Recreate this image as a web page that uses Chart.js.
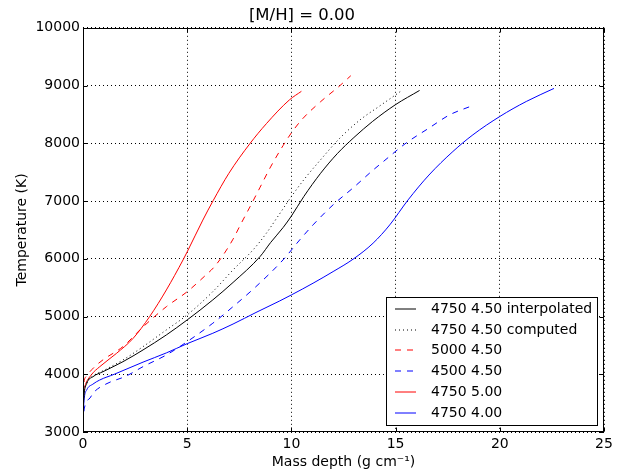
<!DOCTYPE html>
<html>
<head>
<meta charset="utf-8">
<script src="https://cdn.jsdelivr.net/npm/chart.js@4.4.1/dist/chart.umd.min.js"></script>
<style>
  html, body { margin: 0; padding: 0; background: #fff; }
  #wrap { width: 634px; height: 472px; position: relative; }
</style>
</head>
<body>
<div id="wrap"><canvas id="chart"></canvas></div>
<script>
// values
const interpX = [0, 0.04, 0.18, 0.48, 0.96, 1.92, 2.88, 4.0, 5.0, 6.23, 7.2, 8.5, 9.0, 9.6, 10.0, 10.6, 11.4, 12.2, 13.0, 13.9, 15.0, 16.15];
const interpT = [3300, 3600, 3840, 3958, 4045, 4218, 4421, 4681, 4941, 5288, 5590, 6040, 6280, 6540, 6740, 7080, 7480, 7820, 8100, 8380, 8670, 8915];

const compX = [0, 0.04, 0.18, 0.48, 0.96, 1.92, 2.88, 4.0, 5.0, 6.23, 7.2, 8.2, 8.8, 9.4, 10.0, 10.6, 11.4, 12.3, 13.3, 14.2, 15.28];
const compT = [3300, 3620, 3850, 3970, 4060, 4248, 4478, 4768, 5028, 5431, 5807, 6170, 6443, 6760, 7078, 7370, 7714, 8080, 8407, 8637, 8910];

const t5000X = [0, 0.03, 0.15, 0.56, 0.96, 1.92, 2.88, 4.0, 5.0, 5.9, 6.25, 6.7, 7.2, 7.6, 8.1, 8.5, 9.0, 9.6, 10.0, 10.5, 11.4, 12.3, 12.85];
const t5000T = [3450, 3800, 3960, 4130, 4250, 4480, 4820, 5170, 5430, 5720, 5840, 6050, 6340, 6620, 6960, 7240, 7590, 7960, 8180, 8410, 8720, 8990, 9170];

const t4500X = [0, 0.06, 0.34, 0.5, 1.1, 2.08, 2.88, 4.0, 5.0, 6.23, 7.2, 8.3, 9.6, 10.4, 11.04, 12.0, 13.0, 13.9, 14.4, 15.5, 16.6, 17.6, 18.6];
const t4500T = [3150, 3400, 3590, 3680, 3830, 3970, 4132, 4334, 4565, 4884, 5171, 5518, 5981, 6327, 6587, 6934, 7240, 7530, 7680, 8003, 8263, 8494, 8640];

const g500X = [0, 0.02, 0.08, 0.4, 0.8, 1.6, 2.4, 3.2, 4.0, 4.8, 5.0, 5.75, 6.25, 7.0, 8.0, 8.8, 9.9, 10.48];
const g500T = [3400, 3650, 3780, 3990, 4130, 4360, 4620, 5000, 5460, 5980, 6120, 6670, 7010, 7480, 7990, 8340, 8750, 8900];

const g400X = [0, 0.03, 0.18, 0.48, 0.8, 1.5, 2.88, 4.0, 5.0, 6.23, 7.2, 8.3, 9.44, 10.0, 11.04, 12.0, 12.96, 13.92, 14.72, 15.6, 16.6, 17.75, 18.71, 20.0, 21.27, 22.6];
const g400T = [3050, 3450, 3730, 3830, 3900, 4000, 4210, 4370, 4530, 4710, 4870, 5070, 5270, 5374, 5577, 5778, 5993, 6270, 6587, 7020, 7450, 7858, 8147, 8464, 8724, 8950];

const labels = ["4750 4.50 interpolated", "4750 4.50 computed", "5000 4.50", "4500 4.50", "4750 5.00", "4750 4.00"];
const xTicks = [0, 5, 10, 15, 20, 25];
const yTicks = [3000, 4000, 5000, 6000, 7000, 8000, 9000, 10000];

const FONT = "'DejaVu Sans', 'Liberation Sans', sans-serif";

function pts(xs, ys) {
  return xs.map((x, i) => ({x: x, y: ys[i]}));
}

function ds(label, xs, ys, color, dash) {
  return {
    label: label,
    data: pts(xs, ys),
    borderColor: color,
    backgroundColor: color,
    borderWidth: 1,
    borderDash: dash,
    pointRadius: 0,
    fill: false,
    cubicInterpolationMode: "monotone"
  };
}

const datasets = [
  ds(labels[0], interpX, interpT, "#000000", []),
  ds(labels[1], compX, compT, "#000000", [1, 3]),
  ds(labels[2], t5000X, t5000T, "#ff0000", [6, 6]),
  ds(labels[3], t4500X, t4500T, "#0000ff", [6, 6]),
  ds(labels[4], g500X, g500T, "#ff0000", []),
  ds(labels[5], g400X, g400T, "#0000ff", [])
];

// box round the plot with inward tick marks
const framePlugin = {
  id: "frame",
  afterDraw(chart) {
    const {ctx, chartArea: a, scales: {x, y}} = chart;
    const L = Math.round(a.left) + 0.5, R = Math.round(a.right) - 0.5;
    const T = Math.round(a.top) + 0.5, B = Math.round(a.bottom) - 0.5;
    ctx.save();
    ctx.strokeStyle = "#000";
    ctx.lineWidth = 1;
    ctx.setLineDash([]);
    ctx.beginPath();
    xTicks.forEach(v => {
      const px = Math.round(x.getPixelForValue(v)) + 0.5;
      ctx.moveTo(px, B); ctx.lineTo(px, B - 4);
      ctx.moveTo(px, T); ctx.lineTo(px, T + 4);
    });
    yTicks.forEach(v => {
      const py = Math.round(y.getPixelForValue(v)) + 0.5;
      ctx.moveTo(L, py); ctx.lineTo(L + 4, py);
      ctx.moveTo(R, py); ctx.lineTo(R - 4, py);
    });
    ctx.stroke();
    ctx.strokeRect(L, T, R - L, B - T);
    ctx.restore();
  }
};

// legend drawn inside the plot, lower right
const boxLegend = {
  id: "boxLegend",
  afterDraw(chart) {
    const {ctx, chartArea: a} = chart;
    ctx.save();
    ctx.font = "14px " + FONT;
    let maxW = 0;
    chart.data.datasets.forEach(d => { maxW = Math.max(maxW, ctx.measureText(d.label).width); });
    const rowH = 20.7;
    const w = Math.round(maxW + 50);
    const h = Math.round(rowH * chart.data.datasets.length + 4);
    const right = Math.round(a.right) - 7, bottom = Math.round(a.bottom) - 7;
    const left = right - w, top = bottom - h;
    ctx.fillStyle = "#fff";
    ctx.fillRect(left, top, w, h);
    ctx.strokeStyle = "#000";
    ctx.lineWidth = 1;
    ctx.strokeRect(left + 0.5, top + 0.5, w, h);
    chart.data.datasets.forEach((d, i) => {
      const cy = Math.round(top + 12 + i * rowH);
      ctx.strokeStyle = d.borderColor;
      ctx.setLineDash(d.borderDash);
      ctx.beginPath();
      ctx.moveTo(left + 9, cy);
      ctx.lineTo(left + 30, cy);
      ctx.stroke();
      ctx.setLineDash([]);
      ctx.fillStyle = "#000";
      ctx.textBaseline = "middle";
      ctx.fillText(d.label, left + 45, cy);
    });
    ctx.restore();
  }
};

const chart = new Chart(document.getElementById("chart"), {
  type: "line",
  data: { datasets: datasets },
  plugins: [framePlugin, boxLegend],
  options: {
    responsive: true,
    maintainAspectRatio: false,
    animation: false,
    layout: { padding: { left: 0, right: 30, top: 0, bottom: 0 } },
    plugins: {
      legend: { display: false },
      tooltip: { enabled: false },
      title: {
        display: true,
        text: "[M/H] = 0.00",
        color: "#000",
        font: { family: FONT, size: 16.5, weight: "normal" },
        padding: { top: 6, bottom: 2 }
      }
    },
    scales: {
      x: {
        type: "linear",
        min: 0,
        max: 25,
        afterBuildTicks: s => { s.ticks = xTicks.map(v => ({value: v})); },
        afterFit: s => { s.height = 40; },
        ticks: { color: "#000", font: { family: FONT, size: 14 }, padding: 4, maxRotation: 0,
                 callback: v => String(v) },
        grid: { color: "#000", lineWidth: 1, drawTicks: false },
        border: { display: false, dash: [1, 3] },
        title: {
          display: true,
          text: "Mass depth (g cm\u207B\u00B9)",
          color: "#000",
          font: { family: FONT, size: 14 },
          padding: { top: 0, bottom: 1 }
        }
      },
      y: {
        min: 3000,
        max: 10000,
        afterBuildTicks: s => { s.ticks = yTicks.map(v => ({value: v})); },
        afterFit: s => { s.width = 83; },
        ticks: { color: "#000", font: { family: FONT, size: 14 }, padding: 3,
                 callback: v => String(v) },
        grid: { color: "#000", lineWidth: 1, drawTicks: false },
        border: { display: false, dash: [1, 3] },
        title: {
          display: true,
          text: "Temperature (K)",
          color: "#000",
          font: { family: FONT, size: 14 },
          padding: { top: 14, bottom: 0 }
        }
      }
    }
  }
});
</script>
</body>
</html>
